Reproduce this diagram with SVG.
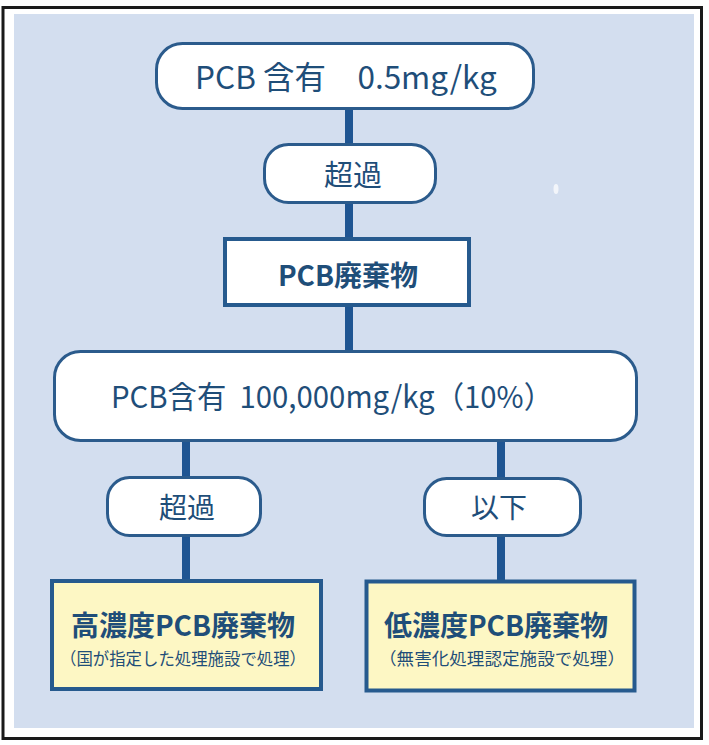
<svg xmlns="http://www.w3.org/2000/svg" width="709" height="745" viewBox="0 0 709 745">
  <style>
    .t { font-family: "Noto Sans CJK JP", "Noto Sans", sans-serif; fill: #1f4e79; }
    .b { font-weight: bold; }
    .pill { fill: #ffffff; stroke: #2b5b8c; stroke-width: 3; }
    .box { fill: #ffffff; stroke: #265a8e; stroke-width: 4; }
    .ybox { fill: #fdf7c4; stroke: #265a8e; stroke-width: 4; }
    .conn { stroke: #1f5592; stroke-width: 8; fill: none; }
  </style>
  <rect x="0" y="0" width="709" height="745" fill="#ffffff"/>
  <rect x="3" y="7.5" width="698.5" height="731" fill="#ffffff" stroke="#1a1a1a" stroke-width="3"/>
  <rect x="14" y="14" width="680" height="714" fill="#d3deef"/>
  <ellipse cx="556" cy="189" rx="2.5" ry="5" fill="#f2f5fa"/>

  <g id="connectors">
    <line class="conn" x1="349" y1="109" x2="349" y2="145"/>
    <line class="conn" x1="349" y1="203" x2="349" y2="238"/>
    <line class="conn" x1="349" y1="306" x2="349" y2="352"/>
    <line class="conn" x1="186" y1="440" x2="186" y2="478"/>
    <line class="conn" x1="186" y1="536" x2="186" y2="580"/>
    <line class="conn" x1="501" y1="440" x2="501" y2="479"/>
    <line class="conn" x1="501" y1="536" x2="501" y2="580"/>
  </g>

  <g id="node-top">
    <rect class="pill" x="156.5" y="43.5" width="377" height="65" rx="26"/>
    <text class="t" x="346" y="89" font-size="31.5" text-anchor="middle">PCB 含有　0.5mg/kg</text>
  </g>

  <g id="node-exceed1">
    <rect class="pill" x="264.5" y="144.5" width="171" height="58" rx="24"/>
    <text class="t" x="353" y="186" font-size="29" text-anchor="middle">超過</text>
  </g>

  <g id="node-pcb-waste">
    <rect class="box" x="225" y="239" width="244" height="66"/>
    <text class="t b" x="348" y="286" font-size="28" text-anchor="middle">PCB廃棄物</text>
  </g>

  <g id="node-content">
    <rect class="pill" x="54.5" y="351.5" width="582" height="89" rx="26"/>
    <text class="t" x="111" y="408" font-size="30.5" textLength="442" lengthAdjust="spacingAndGlyphs">PCB含有&#160; 100,000mg/kg（10%）</text>
  </g>

  <g id="node-exceed2">
    <rect class="pill" x="107.5" y="477.5" width="153" height="58" rx="22"/>
    <text class="t" x="187" y="518" font-size="28" text-anchor="middle">超過</text>
  </g>

  <g id="node-below">
    <rect class="pill" x="424.5" y="478.5" width="156" height="57" rx="22"/>
    <text class="t" x="499" y="518" font-size="28" text-anchor="middle">以下</text>
  </g>

  <g id="node-high">
    <rect class="ybox" x="52" y="581" width="269" height="108"/>
    <text class="t b" x="183" y="636" font-size="28" text-anchor="middle">高濃度PCB廃棄物</text>
    <text class="t" x="183" y="665" font-size="17" text-anchor="middle" textLength="246" lengthAdjust="spacingAndGlyphs">（国が指定した処理施設で処理）</text>
  </g>

  <g id="node-low">
    <rect class="ybox" x="366.5" y="581.5" width="268" height="109"/>
    <text class="t b" x="496" y="636" font-size="28" text-anchor="middle">低濃度PCB廃棄物</text>
    <text class="t" x="502" y="665" font-size="17" text-anchor="middle" textLength="246" lengthAdjust="spacingAndGlyphs">（無害化処理認定施設で処理）</text>
  </g>
</svg>
